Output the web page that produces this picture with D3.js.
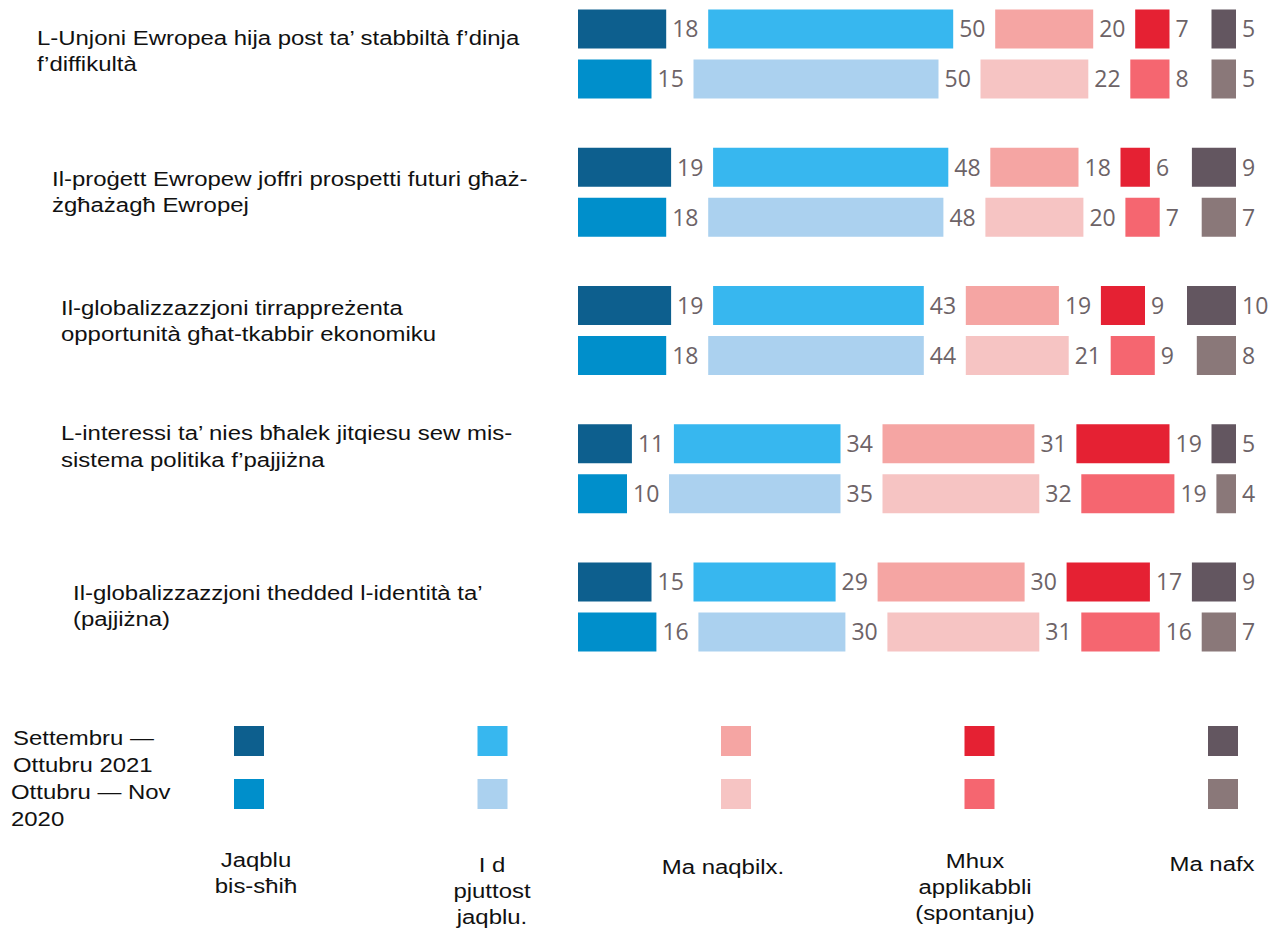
<!DOCTYPE html>
<html>
<head>
    <meta charset="utf-8">
    <title>Chart</title>
    <script src="https://d3js.org/d3.v7.min.js"></script>
    <style>
        body { margin: 0; background: #fff; }
        #chartdiv { display: block; }
        .lbl { font-family: "Liberation Sans", Arial, sans-serif; font-size: 21px; fill: #111; }
        .val { font-family: "Open Sans", sans-serif; font-size: 23px; fill: #6d6367; }
    </style>
</head>
<body>
    <svg id="chartdiv"></svg>
    <script>
        // statements, one line per entry
        const statements = [
            ["L-Unjoni Ewropea hija post ta’ stabbiltà f’dinja", "f’diffikultà"],
            ["Il-proġett Ewropew joffri prospetti futuri għaż-", "żgħażagħ Ewropej"],
            ["Il-globalizzazzjoni tirrappreżenta", "opportunità għat-tkabbir ekonomiku"],
            ["L-interessi ta’ nies bħalek jitqiesu sew mis-", "sistema politika f’pajjiżna"],
            ["Il-globalizzazzjoni thedded l-identità ta’", "(pajjiżna)"]
        ];
        const periods = [["Settembru —", "Ottubru 2021"], ["Ottubru — Nov", "2020"]];
        const answers = [["Jaqblu", "bis-sħiħ"], ["I d", "pjuttost", "jaqblu."], ["Ma naqbilx."],
                         ["Mhux", "applikabbli", "(spontanju)"], ["Ma nafx"]];

        const values2021 = [
            [18, 50, 20, 7, 5],
            [19, 48, 18, 6, 9],
            [19, 43, 19, 9, 10],
            [11, 34, 31, 19, 5],
            [15, 29, 30, 17, 9]
        ];
        const values2020 = [
            [15, 50, 22, 8, 5],
            [18, 48, 20, 7, 7],
            [18, 44, 21, 9, 8],
            [10, 35, 32, 19, 4],
            [16, 30, 31, 16, 7]
        ];

        const colors2021 = ["#0d5f8e", "#37b7ef", "#f5a5a3", "#e52133", "#635660"];
        const colors2020 = ["#008fcb", "#abd1ef", "#f6c4c3", "#f56670", "#8a7879"];

        const width = 1277, height = 930;
        const left = 578, right = 1236, gap = 42;

        // label placement (x, first baseline offset from group top) - irregular in the original
        const stmtX = [37, 52, 61, 61, 73];
        const stmtDy = [35, 38, 29, 16, 37.5];
        const ansX = [256, 492, 723, 975, 1212];
        const ansY = [867, 872, 874, 868, 871];

        const svg = d3.select("#chartdiv")
            .attr("width", width)
            .attr("height", height)
            .attr("viewBox", [0, 0, width, height]);

        const x = d3.scaleLinear().domain([0, 100]).range([0, 490]);
        const yGroup = d3.scaleBand().domain(d3.range(statements.length)).range([9.5, 9.5 + 5 * 138.25]);
        const yRow = d3.scaleBand().domain([0, 1]).range([0, 89]).paddingInner(0.22);

        const rows = [];
        statements.forEach((s, i) => {
            [values2021[i], values2020[i]].forEach((vals, r) => {
                const cols = r === 0 ? colors2021 : colors2020;
                let pos = left;
                vals.forEach((v, k) => {
                    let x0;
                    if (k < vals.length - 1) {
                        x0 = pos;
                        pos = x0 + x(v) + gap;
                    } else {
                        x0 = right - x(v); // last answer is right aligned
                    }
                    rows.push({ g: i, r: r, k: k, v: v, x0: x0, w: x(v), fill: cols[k] });
                });
            });
        });

        const bars = svg.append("g");
        bars.selectAll("rect")
            .data(rows)
            .join("rect")
            .attr("x", d => d.x0)
            .attr("y", d => yGroup(d.g) + yRow(d.r))
            .attr("width", d => d.w)
            .attr("height", yRow.bandwidth())
            .attr("fill", d => d.fill);

        bars.selectAll("text")
            .data(rows)
            .join("text")
            .attr("class", "val")
            .attr("x", d => d.x0 + d.w + 6)
            .attr("y", d => yGroup(d.g) + yRow(d.r) + yRow.bandwidth() / 2)
            .attr("dy", "0.36em")
            .text(d => d.v);

        // statement labels
        const multiline = (sel, lines, lh) => {
            lines.forEach((t, j) => sel.append("tspan").attr("x", 0).attr("y", j * lh).text(t));
        };

        statements.forEach((lines, i) => {
            const t = svg.append("text")
                .attr("class", "lbl")
                .attr("transform", `translate(${stmtX[i]},${yGroup(i) + stmtDy[i]}) scale(1.14,1)`);
            multiline(t, lines, 26.5);
        });

        // legend
        const lx = d3.scaleLinear().domain([0, 4]).range([234, 1208]);
        const ly = [726, 779];
        const legend = svg.append("g");
        [colors2021, colors2020].forEach((cols, r) => {
            legend.selectAll(null)
                .data(cols)
                .join("rect")
                .attr("x", (d, k) => lx(k))
                .attr("y", ly[r])
                .attr("width", 30)
                .attr("height", 30)
                .attr("fill", d => d);
        });

        const periodX = [13, 11];
        const periodY = [745, 799];
        periods.forEach((lines, r) => {
            const t = legend.append("text")
                .attr("class", "lbl")
                .attr("transform", `translate(${periodX[r]},${periodY[r]}) scale(1.14,1)`);
            multiline(t, lines, 27);
        });

        answers.forEach((lines, k) => {
            const t = legend.append("text")
                .attr("class", "lbl")
                .attr("text-anchor", "middle")
                .attr("transform", `translate(${ansX[k]},${ansY[k]}) scale(1.14,1)`);
            multiline(t, lines, 26);
        });
    </script>
</body>
</html>
